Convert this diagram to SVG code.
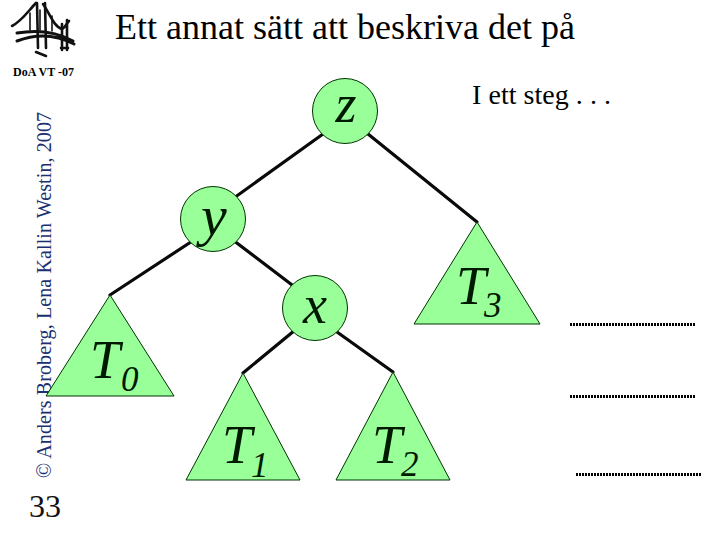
<svg xmlns="http://www.w3.org/2000/svg" width="720" height="540" viewBox="0 0 720 540">
<style>
.f{font-family:"Liberation Serif","Times New Roman",serif}
.n{fill:#99FF99;stroke:#003300;stroke-width:1}
.e{stroke:#0a0a0a;stroke-width:3.2;stroke-linecap:round;fill:none}
.i{font-family:"Liberation Serif","Times New Roman",serif;font-style:italic;fill:#001a00}
.T{font-size:54px}
.s{font-size:35px}
.d{stroke:#000;stroke-width:3;stroke-dasharray:2 1;fill:none}
.l{stroke:#111;fill:none;stroke-linecap:round}
</style>
<rect width="720" height="540" fill="#fff"/>
<g id="logo">
<path class="l" stroke-width="2.600" d="M12 26C22 21 29 10 36 3M43 4C50 14 54 27 62 29C66 27 66 24 69 21"/>
<path class="l" stroke-width="2.600" d="M37 3L38 48M45 3L46 48M62 24L62 50M67 20L67 50"/>
<path class="l" stroke-width="3" d="M17 33C35 30 55 31 73 41M17 41C35 34 55 34 74 44"/>
<path class="l" stroke-width="1.600" d="M40 10L40 30M52 16L52 31M30 13L30 30"/>
<path class="l" stroke-width="2.600" d="M36 52L46 56M61 48L68 48"/>
</g>
<text class="f" x="13" y="76" font-size="12" font-weight="bold" textLength="61" lengthAdjust="spacingAndGlyphs">DoA VT -07</text>
<text class="f" x="115" y="39" font-size="36" textLength="460" lengthAdjust="spacing">Ett annat sätt att beskriva det på</text>
<text class="f" transform="translate(50.500,478) rotate(-90)" font-size="20" fill="#1a3070" textLength="366" lengthAdjust="spacing">© Anders Broberg, Lena Kallin Westin, 2007</text>
<text class="f" x="29" y="517" font-size="32" fill="#111">33</text>
<text class="f" x="472" y="104" font-size="28" textLength="139" lengthAdjust="spacing">I ett steg . . .</text>
<g id="connectors">
<path class="e" d="M330 129L213 213"/>
<path class="e" d="M368 134L477 222"/>
<path class="e" d="M200 236L110 295"/>
<path class="e" d="M225 234L300 291"/>
<path class="e" d="M300 326L243 373"/>
<path class="e" d="M330 327L393 372"/>
</g>
<g id="node-z"><circle class="n" cx="345" cy="111" r="32.500"/><text class="i" x="335.500" y="122" font-size="54">z</text></g>
<g id="node-y"><circle class="n" cx="213" cy="219" r="32.500"/><text class="i" x="201" y="235" font-size="58">y</text></g>
<g id="node-x"><circle class="n" cx="315" cy="308" r="32.500"/><text class="i" x="303" y="323" font-size="54">x</text></g>
<g id="node-T0"><path class="n" d="M110 295L174 396H46Z"/><text class="i T" x="90" y="378">T</text><text class="i s" x="121" y="391">0</text></g>
<g id="node-T1"><path class="n" d="M243 373L300 480H186Z"/><text class="i T" x="222" y="463">T</text><text class="i s" x="251" y="477">1</text></g>
<g id="node-T2"><path class="n" d="M393 372L450 480H336Z"/><text class="i T" x="372" y="463">T</text><text class="i s" x="401" y="476">2</text></g>
<g id="node-T3"><path class="n" d="M477 222L540 324H414Z"/><text class="i T" x="456" y="304">T</text><text class="i s" x="484" y="317">3</text></g>
<path class="d" d="M570 324.500H695M570 396.500H695M576 474.500H701"/>
</svg>
